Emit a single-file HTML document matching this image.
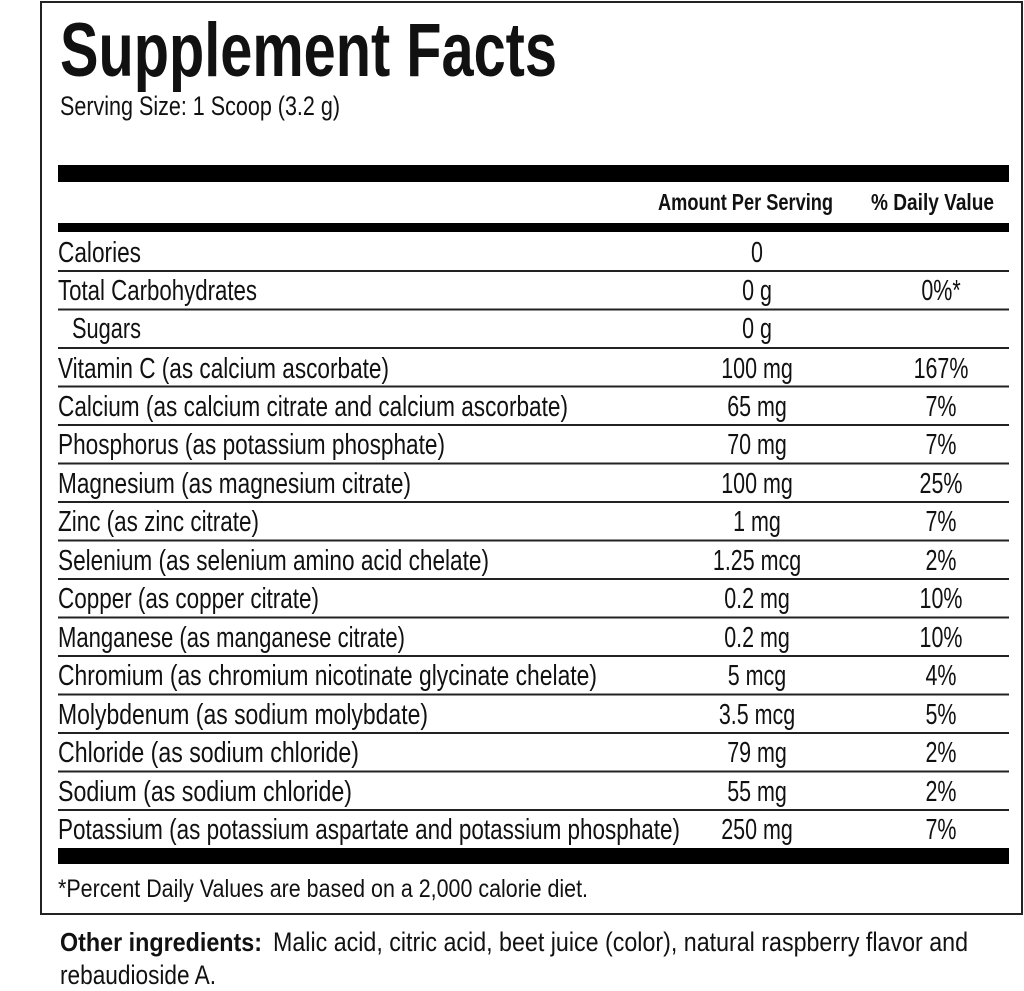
<!DOCTYPE html>
<html><head><style>html,body{margin:0;padding:0;background:#fff}svg{display:block}</style></head><body>
<svg width="1024" height="991" viewBox="0 0 1024 991" xmlns="http://www.w3.org/2000/svg" font-family="Liberation Sans, sans-serif" fill="#111">
<rect x="41" y="2" width="981" height="912" fill="none" stroke="#222" stroke-width="2"/>
<text x="60" y="76" font-size="76" font-weight="bold" textLength="497" lengthAdjust="spacingAndGlyphs">Supplement Facts</text>
<text x="60" y="115" font-size="27" textLength="280" lengthAdjust="spacingAndGlyphs">Serving Size: 1 Scoop (3.2 g)</text>
<rect x="58" y="165" width="951" height="17" fill="#000"/>
<text x="658" y="210" font-size="23" font-weight="bold" textLength="175" lengthAdjust="spacingAndGlyphs">Amount Per Serving</text>
<text x="871" y="210" font-size="23" font-weight="bold" textLength="123" lengthAdjust="spacingAndGlyphs">% Daily Value</text>
<rect x="58" y="223" width="951" height="9" fill="#000"/>
<g stroke="#222" stroke-width="2">
<line x1="58" x2="1009" y1="271" y2="271"/><line x1="58" x2="1009" y1="309.5" y2="309.5"/><line x1="58" x2="1009" y1="348" y2="348"/><line x1="58" x2="1009" y1="386.5" y2="386.5"/><line x1="58" x2="1009" y1="425" y2="425"/><line x1="58" x2="1009" y1="463.5" y2="463.5"/><line x1="58" x2="1009" y1="502" y2="502"/><line x1="58" x2="1009" y1="540.5" y2="540.5"/><line x1="58" x2="1009" y1="579" y2="579"/><line x1="58" x2="1009" y1="617.5" y2="617.5"/><line x1="58" x2="1009" y1="656" y2="656"/><line x1="58" x2="1009" y1="694.5" y2="694.5"/><line x1="58" x2="1009" y1="733" y2="733"/><line x1="58" x2="1009" y1="771.5" y2="771.5"/><line x1="58" x2="1009" y1="810" y2="810"/>
</g>
<g font-size="29">
<text x="58" y="262" textLength="83" lengthAdjust="spacingAndGlyphs">Calories</text>
<text x="58" y="300" textLength="199" lengthAdjust="spacingAndGlyphs">Total Carbohydrates</text>
<text x="72" y="338" textLength="69" lengthAdjust="spacingAndGlyphs">Sugars</text>
<text x="58" y="378" textLength="331" lengthAdjust="spacingAndGlyphs">Vitamin C (as calcium ascorbate)</text>
<text x="58" y="416" textLength="510" lengthAdjust="spacingAndGlyphs">Calcium (as calcium citrate and calcium ascorbate)</text>
<text x="58" y="454" textLength="387" lengthAdjust="spacingAndGlyphs">Phosphorus (as potassium phosphate)</text>
<text x="58" y="493" textLength="353" lengthAdjust="spacingAndGlyphs">Magnesium (as magnesium citrate)</text>
<text x="58" y="531" textLength="201" lengthAdjust="spacingAndGlyphs">Zinc (as zinc citrate)</text>
<text x="58" y="570" textLength="431" lengthAdjust="spacingAndGlyphs">Selenium (as selenium amino acid chelate)</text>
<text x="58" y="608" textLength="261" lengthAdjust="spacingAndGlyphs">Copper (as copper citrate)</text>
<text x="58" y="647" textLength="347" lengthAdjust="spacingAndGlyphs">Manganese (as manganese citrate)</text>
<text x="58" y="685" textLength="539" lengthAdjust="spacingAndGlyphs">Chromium (as chromium nicotinate glycinate chelate)</text>
<text x="58" y="724" textLength="370" lengthAdjust="spacingAndGlyphs">Molybdenum (as sodium molybdate)</text>
<text x="58" y="762" textLength="301" lengthAdjust="spacingAndGlyphs">Chloride (as sodium chloride)</text>
<text x="58" y="801" textLength="294" lengthAdjust="spacingAndGlyphs">Sodium (as sodium chloride)</text>
<text x="58" y="839" textLength="622" lengthAdjust="spacingAndGlyphs">Potassium (as potassium aspartate and potassium phosphate)</text>
</g>
<g font-size="29" text-anchor="middle">
<g transform="translate(757,0) scale(0.74,1)">
<text x="0" y="262">0</text><text x="0" y="300">0 g</text><text x="0" y="338">0 g</text><text x="0" y="378">100 mg</text><text x="0" y="416">65 mg</text><text x="0" y="454">70 mg</text><text x="0" y="493">100 mg</text><text x="0" y="531">1 mg</text><text x="0" y="570">1.25 mcg</text><text x="0" y="608">0.2 mg</text><text x="0" y="647">0.2 mg</text><text x="0" y="685">5 mcg</text><text x="0" y="724">3.5 mcg</text><text x="0" y="762">79 mg</text><text x="0" y="801">55 mg</text><text x="0" y="839">250 mg</text>
</g>
<g transform="translate(941,0) scale(0.74,1)">
<text x="0" y="300">0%*</text><text x="0" y="378">167%</text><text x="0" y="416">7%</text><text x="0" y="454">7%</text><text x="0" y="493">25%</text><text x="0" y="531">7%</text><text x="0" y="570">2%</text><text x="0" y="608">10%</text><text x="0" y="647">10%</text><text x="0" y="685">4%</text><text x="0" y="724">5%</text><text x="0" y="762">2%</text><text x="0" y="801">2%</text><text x="0" y="839">7%</text>
</g>
</g>
<rect x="58" y="848" width="951" height="16" fill="#000"/>
<text x="58" y="897" font-size="25" textLength="530" lengthAdjust="spacingAndGlyphs">*Percent Daily Values are based on a 2,000 calorie diet.</text>
<text x="60" y="951" font-size="26" font-weight="bold" textLength="202" lengthAdjust="spacingAndGlyphs">Other ingredients:</text>
<text x="273" y="951" font-size="27" textLength="695" lengthAdjust="spacingAndGlyphs">Malic acid, citric acid, beet juice (color), natural raspberry flavor and</text>
<text x="60" y="984" font-size="27" textLength="156" lengthAdjust="spacingAndGlyphs">rebaudioside A.</text>
</svg>
</body></html>
